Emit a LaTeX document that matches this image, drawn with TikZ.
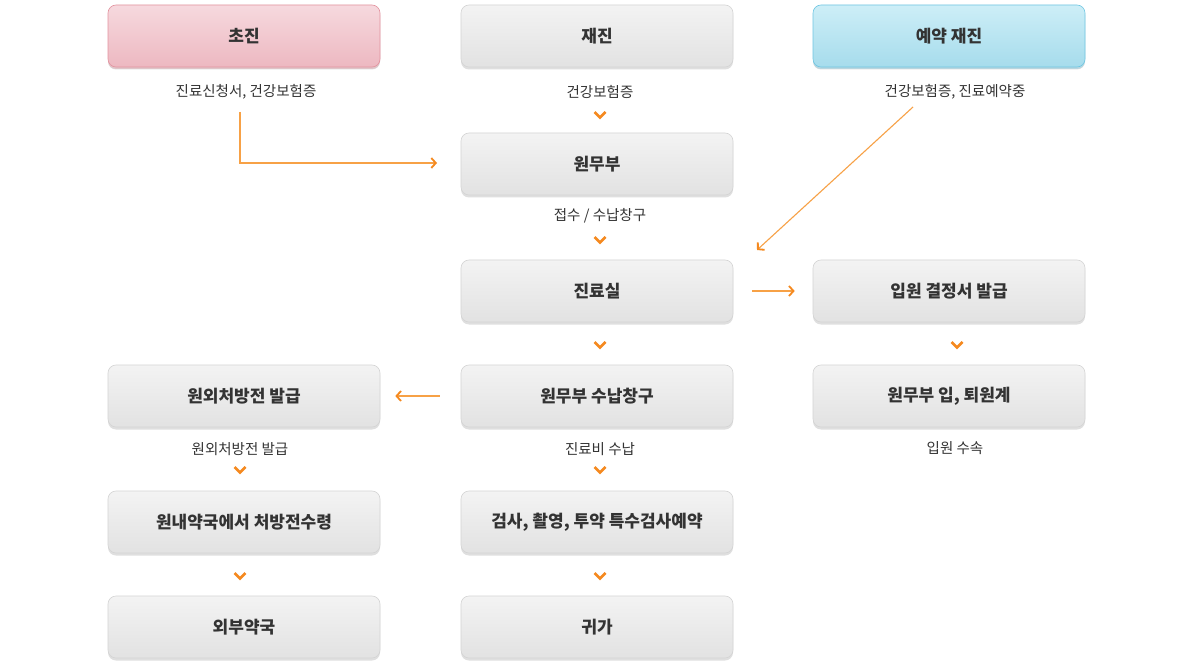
\documentclass[tikz,border=0pt]{standalone}
\usepackage{fontspec}
\setmainfont{Noto Sans CJK KR}
\usetikzlibrary{arrows.meta,shadows,calc}
\definecolor{txt}{HTML}{333333}
\definecolor{ora}{HTML}{F7A146}
\definecolor{orad}{HTML}{F5891F}
\definecolor{gtop}{HTML}{F3F3F3}
\definecolor{gbot}{HTML}{E2E2E2}
\definecolor{gbrd}{HTML}{D4D4D4}
\definecolor{ptop}{HTML}{F6D9DE}
\definecolor{pbot}{HTML}{EDB8C1}
\definecolor{pbrd}{HTML}{E3939F}
\definecolor{btop}{HTML}{CDEEF7}
\definecolor{bbot}{HTML}{A6DCEC}
\definecolor{bbrd}{HTML}{6FC6E2}
\tikzset{
  box/.style={rounded corners=8pt, minimum width=272pt, minimum height=62pt,
    draw=gbrd, line width=0.6pt, top color=gtop, bottom color=gbot,
    font=\fontsize{17}{19}\selectfont\bfseries, text=txt,
    drop shadow={shadow xshift=0pt, shadow yshift=-2.5pt, opacity=0.25, fill=gray}},
  pinkbox/.style={box, draw=pbrd, top color=ptop, bottom color=pbot,
    drop shadow={shadow xshift=0pt, shadow yshift=-2pt, opacity=0.35, fill=pbrd}},
  bluebox/.style={box, draw=bbrd, top color=btop, bottom color=bbot,
    drop shadow={shadow xshift=0pt, shadow yshift=-2pt, opacity=0.35, fill=bbrd}},
  lab/.style={font=\fontsize{14.5}{16}\selectfont, text=txt, inner sep=1pt},
  conn/.style={draw=ora, line width=1.1pt,
    -{Straight Barb[length=4.5pt,width=10pt,line width=1.8pt,color=orad]}},
  chev/.style={draw=orad, line width=2.6pt}
}
\newcommand{\chevron}[1]{\draw[chev] ($(#1)+(-5.5,-3)$) -- ($(#1)+(0,2.5)$) -- ($(#1)+(5.5,-3)$);}
\begin{document}
\begin{tikzpicture}[x=1pt,y=-1pt]
\useasboundingbox[fill=white] (0,0) rectangle (1200,671);
% column 1
\node[pinkbox] (chojin) at (244,36) {초진};
\node[box] (wonoe) at (244,396) {원외처방전 발급};
\node[box] (wonnae) at (244,522) {원내약국에서 처방전수령};
\node[box] (oebu) at (244,627) {외부약국};
% column 2
\node[box] (jaejin) at (597,36) {재진};
\node[box] (wonmu) at (597,164) {원무부};
\node[box] (jinryo) at (597,291) {진료실};
\node[box] (sunap) at (597,396) {원무부 수납창구};
\node[box] (geomsa) at (597,522) {검사, 촬영, 투약 특수검사예약};
\node[box] (gwiga) at (597,627) {귀가};
% column 3
\node[bluebox] (yeyak) at (949,36) {예약 재진};
\node[box] (ipwon) at (949,291) {입원 결정서 발급};
\node[box] (toewon) at (949,396) {원무부 입, 퇴원계};
% labels
\node[lab] (l1) at (246,92) {진료신청서, 건강보험증};
\node[lab] (l2) at (600,92) {건강보험증};
\node[lab] (l3) at (955,92) {건강보험증, 진료예약중};
\node[lab] (l4) at (600,216) {접수 / 수납창구};
\node[lab] (l5) at (600,449) {진료비 수납};
\node[lab] (l6) at (240,449) {원외처방전 발급};
\node[lab] (l7) at (955,448) {입원 수속};
% chevrons
\coordinate (c1) at (600,115);
\coordinate (c2) at (600,240);
\coordinate (c3) at (600,345);
\coordinate (c4) at (600,470);
\coordinate (c5) at (600,576);
\coordinate (c6) at (240,470);
\coordinate (c7) at (240,576);
\coordinate (c8) at (957,345);
\foreach \c in {c1,c2,c3,c4,c5,c6,c7,c8} {\chevron{\c}}
% connectors
\coordinate (s1) at (240,112);
\coordinate (e1) at (437,163);
\draw[conn] (s1) |- (e1);
\coordinate (d1) at (913,107);
\coordinate (d2) at (757,250);
\draw[conn] (d1) -- (d2);
\draw[conn, shorten <=19pt, shorten >=18pt] (jinryo.east) -- (ipwon.west);
\draw[conn, shorten <=21pt, shorten >=15pt] (sunap.west) -- (wonoe.east);
\end{tikzpicture}
\end{document}
